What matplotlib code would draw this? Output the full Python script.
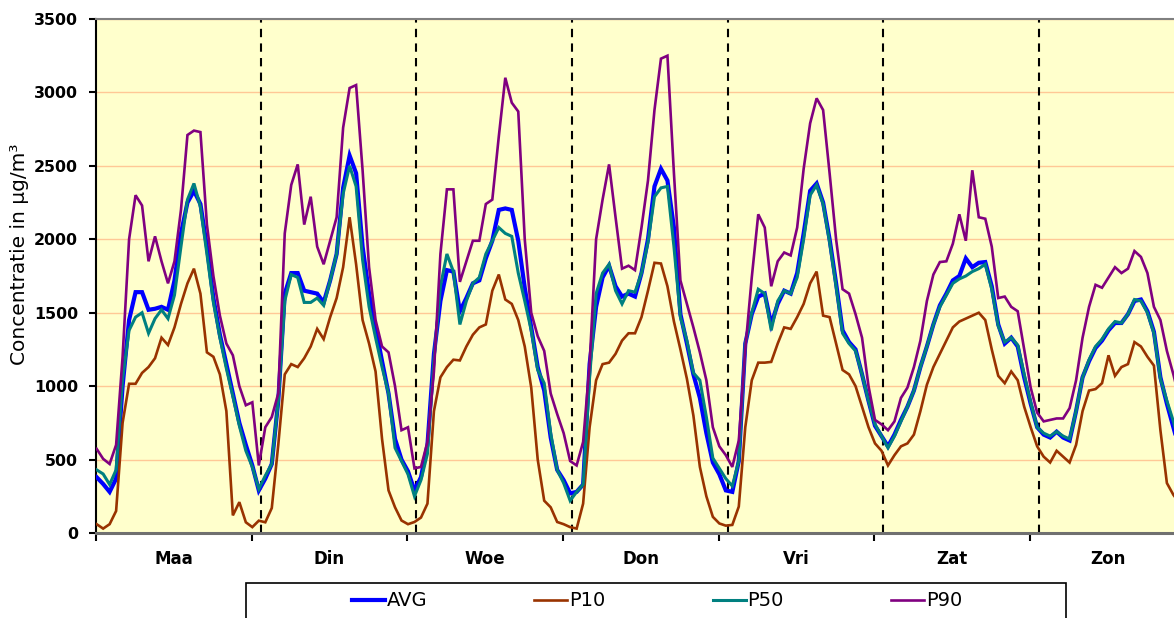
import numpy as np
import matplotlib
matplotlib.use("Agg")
import matplotlib.pyplot as plt
from matplotlib.patches import Rectangle

# ---- data (hourly, Monday 00h .. Sunday 23h) ----
days = ["Maa", "Din", "Woe", "Don", "Vri", "Zat", "Zon"]
yticks = [0, 500, 1000, 1500, 2000, 2500, 3000, 3500]

AVG = [380, 334, 280, 370, 1000, 1450, 1640, 1640, 1520, 1527, 1540, 1520, 1720, 2040, 2250, 2330, 2240, 1950, 1600, 1350, 1150, 950, 750, 600,
       460, 290, 370, 470, 900, 1630, 1770, 1770, 1650, 1640, 1630, 1570, 1720, 1900, 2350, 2570, 2450, 1950, 1630, 1400, 1170, 950, 640, 500,
       420, 290, 380, 600, 1220, 1580, 1790, 1780, 1510, 1600, 1700, 1720, 1870, 1990, 2200, 2210, 2200, 1990, 1670, 1400, 1130, 970, 650, 430,
       360, 270, 280, 330, 1150, 1540, 1740, 1820, 1680, 1610, 1630, 1610, 1770, 2000, 2360, 2480, 2400, 2080, 1490, 1290, 1080, 920, 680, 480,
       400, 290, 280, 490, 1290, 1490, 1610, 1630, 1420, 1560, 1650, 1630, 1770, 2040, 2330, 2380, 2250, 2000, 1700, 1380, 1300, 1250, 1080, 900,
       730, 660, 590, 670, 770, 860, 970, 1130, 1270, 1420, 1550, 1630, 1720, 1750, 1870, 1810, 1840, 1845, 1680, 1420, 1290, 1330, 1270, 1060,
       880, 720, 670, 650, 690, 650, 630, 830, 1060, 1170, 1260, 1310, 1380, 1430, 1430, 1490, 1580, 1590, 1510, 1370, 1060, 880, 720, 560]

P10 = [60, 30, 60, 150, 750, 1016, 1016, 1090, 1130, 1190, 1330, 1280, 1400, 1560, 1700, 1800, 1630, 1230, 1200, 1080, 830, 120, 210, 73,
       40, 84, 73, 170, 600, 1080, 1150, 1130, 1190, 1270, 1390, 1320, 1470, 1600, 1810, 2150, 1830, 1450, 1290, 1100, 640, 290, 175, 85,
       60, 75, 105, 200, 830, 1060, 1130, 1180, 1175, 1270, 1350, 1400, 1420, 1650, 1760, 1590, 1560, 1450, 1270, 990, 500, 220, 175, 75,
       60, 40, 30, 200, 720, 1040, 1150, 1160, 1220, 1310, 1360, 1360, 1470, 1650, 1840, 1835, 1680, 1440, 1250, 1050, 800, 450, 250, 110,
       65, 50, 55, 180, 720, 1040, 1160, 1160, 1165, 1290, 1400, 1390, 1470, 1560, 1700, 1780, 1480, 1470, 1290, 1110, 1080, 1000, 860, 720,
       610, 560, 460, 530, 590, 610, 670, 830, 1010, 1130, 1220, 1310, 1400, 1440, 1460, 1480, 1500, 1450, 1250, 1070, 1020, 1100, 1040, 860,
       720, 590, 520, 480, 560, 520, 480, 600, 830, 970, 980, 1020, 1210, 1070, 1130, 1150, 1300, 1270, 1200, 1140, 700, 340, 260, 200]

P50 = [430, 402, 330, 430, 1050, 1380, 1470, 1500, 1360, 1460, 1520, 1460, 1620, 1950, 2270, 2380, 2220, 1900, 1570, 1330, 1120, 930, 730, 560,
       450, 300, 390, 470, 900, 1580, 1760, 1740, 1570, 1570, 1600, 1550, 1720, 1900, 2310, 2500, 2360, 1860, 1540, 1330, 1130, 950, 580, 490,
       400, 250, 360, 540, 1180, 1680, 1900, 1780, 1420, 1580, 1700, 1740, 1900, 1990, 2080, 2040, 2020, 1770, 1580, 1380, 1110, 1020, 680, 430,
       340, 220, 280, 330, 1060, 1630, 1770, 1830, 1650, 1560, 1650, 1640, 1770, 1980, 2290, 2350, 2360, 1950, 1470, 1310, 1090, 1040, 790, 510,
       440, 370, 320, 490, 1290, 1500, 1660, 1630, 1380, 1580, 1650, 1630, 1740, 2000, 2300, 2370, 2240, 1980, 1680, 1360, 1290, 1240, 1080, 900,
       740, 660, 580, 660, 760, 860, 970, 1130, 1270, 1420, 1540, 1620, 1700, 1730, 1750, 1780, 1800, 1830, 1660, 1410, 1300, 1330, 1280, 1080,
       890, 720, 680, 660, 690, 660, 640, 830, 1060, 1180, 1270, 1320, 1390, 1440, 1430, 1490, 1590, 1580, 1500, 1360, 1050, 900, 760, 600]

P90 = [573, 505, 470, 600, 1200, 2000, 2300, 2230, 1850, 2020, 1850, 1700, 1850, 2200, 2710, 2740, 2730, 2100, 1750, 1480, 1290, 1210, 1000, 870,
       890, 460, 720, 790, 950, 2040, 2370, 2510, 2100, 2290, 1950, 1830, 1990, 2150, 2760, 3030, 3050, 2470, 1810, 1450, 1270, 1230, 1000, 700,
       720, 440, 450, 620, 1100, 1900, 2340, 2340, 1710, 1850, 1990, 1990, 2240, 2270, 2700, 3100, 2930, 2870, 2000, 1500, 1340, 1240, 950, 810,
       680, 490, 460, 620, 1150, 2000, 2270, 2510, 2150, 1800, 1820, 1790, 2080, 2400, 2880, 3230, 3250, 2450, 1720, 1560, 1400, 1230, 1040, 720,
       590, 530, 450, 630, 1250, 1740, 2170, 2080, 1680, 1850, 1910, 1890, 2080, 2480, 2790, 2960, 2880, 2450, 2000, 1660, 1630, 1490, 1330, 1000,
       770, 740, 700, 760, 920, 990, 1130, 1310, 1580, 1760, 1845, 1850, 1970, 2170, 1990, 2470, 2150, 2140, 1950, 1600, 1610, 1540, 1510, 1250,
       990, 820, 760, 770, 780, 780, 850, 1040, 1330, 1540, 1690, 1670, 1740, 1810, 1770, 1800, 1920, 1880, 1770, 1540, 1450, 1240, 1080, 900]

series = [("AVG", AVG, "#0000FF", 3.0),
          ("P10", P10, "#993300", 1.9),
          ("P50", P50, "#008080", 2.2),
          ("P90", P90, "#800080", 1.9)]

# ---- figure ----
W, H = 1174, 618
fig = plt.figure(figsize=(W / 100, H / 100), dpi=100)
ax = fig.add_axes([96 / W, (H - 533) / H, 1089.7 / W, 514 / H])
ax.set_facecolor("#FFFFCC")

n_hours = 24 * len(days)
x = np.arange(n_hours) + 0.1

for k in range(1, len(days)):
    ax.axvline(24 * k + 1.4, color="black", ls=(0, (4, 3)), lw=1.5, zorder=1.5)

handles = []
for i, (name, vals, col, lw) in enumerate(series):
    ln, = ax.plot(x, vals, color=col, lw=lw, label=name, zorder=3 + i,
                  solid_joinstyle="miter")
    handles.append(ln)

ax.set_xlim(0, n_hours)
ax.set_ylim(0, 3500)
ax.set_yticks(yticks)
ax.set_yticklabels([str(v) for v in yticks], fontsize=11.4, fontweight="bold")
ax.yaxis.grid(True, color="#FFC896", lw=1.0)
ax.set_axisbelow(True)

ax.set_xticks(np.arange(0, n_hours + 1, 24))
ax.set_xticklabels([])
ax.set_xticks(np.arange(12, n_hours, 24), minor=True)
ax.set_xticklabels(days, minor=True, fontsize=12, fontweight="bold")
ax.tick_params(axis="x", which="major", direction="out", length=6, width=1.5, color="black")
ax.tick_params(axis="x", which="minor", length=0, pad=12)
ax.tick_params(axis="y", direction="out", length=5, width=1.5, color="black", pad=8)

ax.spines["right"].set_visible(False)
ax.spines["top"].set_color("#808080")
ax.spines["top"].set_linewidth(1.5)
ax.spines["left"].set_color("black")
ax.spines["left"].set_linewidth(1.5)
ax.spines["bottom"].set_color("#707070")
ax.spines["bottom"].set_linewidth(2.2)

fig.text(20 / W, 1 - 254 / H, "Concentratie in µg/m³", rotation=90,
         ha="center", va="center", fontsize=14.5)

fig.add_artist(Rectangle((246 / W, -0.05), 820 / W, 0.05 + (H - 583) / H,
                         transform=fig.transFigure, fill=False,
                         edgecolor="black", lw=1.2))
fig.legend(handles=handles, loc="center", bbox_to_anchor=(657 / W, 1 - 601 / H),
           ncol=4, frameon=False, fontsize=14, handlelength=1.7,
           handletextpad=0.1, columnspacing=5.5)

fig.savefig("out.png", dpi=100)
